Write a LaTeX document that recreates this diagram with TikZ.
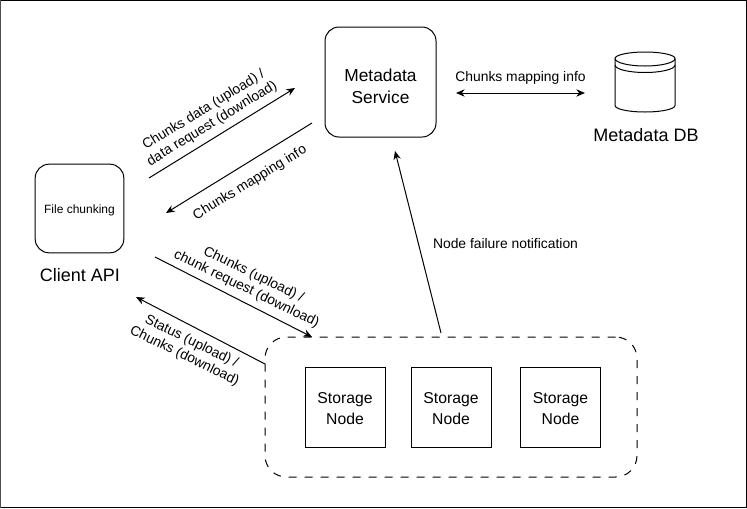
\documentclass[tikz,border=0pt]{standalone}
\usepackage{fontspec}
\setmainfont{Liberation Sans}
\usetikzlibrary{positioning, arrows, arrows.meta, shapes.geometric}
\tikzstyle{service} = [rectangle, rounded corners=10.5pt, minimum width=83.25pt, minimum height=82.5pt, align=center, draw=black, font=\fontsize{13}{16}\selectfont]
\tikzstyle{client} = [rectangle, rounded corners=10.5pt, minimum width=66.5pt, minimum height=66.5pt, draw=black, font=\fontsize{9}{10}\selectfont]
\tikzstyle{storage} = [rectangle, minimum width=60pt, minimum height=60pt, align=center, draw=black, font=\fontsize{11.8}{15.75}\selectfont]
\tikzstyle{caption} = [font=\fontsize{13.5}{15}\selectfont]
\tikzstyle{flowtext} = [align=center, font=\fontsize{10.4}{12}\selectfont]
\tikzstyle{arrow} = [-{Stealth[length=6.5pt,width=5.5pt]}]
\tikzstyle{twoway} = [{Stealth[length=6.5pt,width=5.5pt]}-{Stealth[length=6.5pt,width=5.5pt]}]

\begin{document}
\begin{tikzpicture}[x=0.75pt, y=-0.75pt, line width=0.75pt]
\useasboundingbox (0,0) rectangle (747,508);
\fill[white] (0,0) rectangle (747,508);
\draw[black, line width=1pt] (0,0.7) -- (746.3,0.7) -- (746.3,507.3) -- (0,507.3);
\draw[black!70, line width=1pt] (0.7,0) -- (0.7,508);

\node (Meta) [service] at (380.5,82) {\rule{0pt}{16pt}Metadata\\Service};
\node (Client) [client] at (79.5,208.5) {\rule{0pt}{10pt}File chunking};
\node (ClientCap) [caption] at (80,275) {Client API};
% database drum
\draw (615,58.5) arc[start angle=180, end angle=360, x radius=30, y radius=6.5] -- (675,105.5) arc[start angle=0, end angle=180, x radius=30, y radius=6.5] -- cycle;
\draw (615,58.5) arc[start angle=180, end angle=0, x radius=30, y radius=7.5];
\draw (615,65) arc[start angle=180, end angle=0, x radius=30, y radius=7.5];
\node (DBCap) [caption] at (646,135) {Metadata DB};

\node (Group) [rectangle, dashed, dash pattern=on 6pt off 6pt, rounded corners=16pt, minimum width=279pt, minimum height=105pt, draw=black] at (451,407) {};
\node (S1) [storage] at (345,407) {\rule{0pt}{11pt}Storage\\Node};
\node (S2) [storage] at (451,407) {\rule{0pt}{11pt}Storage\\Node};
\node (S3) [storage] at (560.5,407) {\rule{0pt}{11pt}Storage\\Node};

\coordinate (a1) at (149,178);
\coordinate (a2) at (295,88);
\coordinate (b1) at (312,123);
\coordinate (b2) at (166,213);
\coordinate (c1) at (155,257);
\coordinate (c2) at (312,337);
\coordinate (d1) at (265,364);
\coordinate (d2) at (136,297);
\coordinate (e1) at (441,333);
\coordinate (e2) at (395,151);
\coordinate (f1) at (456,93);
\coordinate (f2) at (585,93);

\draw [arrow] (a1) -- (a2);
\draw [arrow] (b1) -- (b2);
\draw [arrow] (c1) -- (c2);
\draw [arrow] (d1) -- (d2);
\draw [arrow] (e1) -- (e2);
\draw [twoway] (f1) -- (f2);

\node (LabA) [flowtext, rotate=31.6] at (208,117) {Chunks data (upload) /\\data request (download)};
\node (LabB) [flowtext, rotate=31.6] at (250,183) {Chunks mapping info};
\node (LabC) [flowtext, rotate=-26] at (250,282) {Chunks (upload) /\\chunk request (download)};
\node (LabD) [flowtext, rotate=-26] at (188,349) {Status (upload) /\\Chunks (download)};
\node (LabE) [flowtext] at (505.5,244) {Node failure notification};
\node (LabF) [flowtext] at (520.5,77.5) {Chunks mapping info};
\end{tikzpicture}
\end{document}
